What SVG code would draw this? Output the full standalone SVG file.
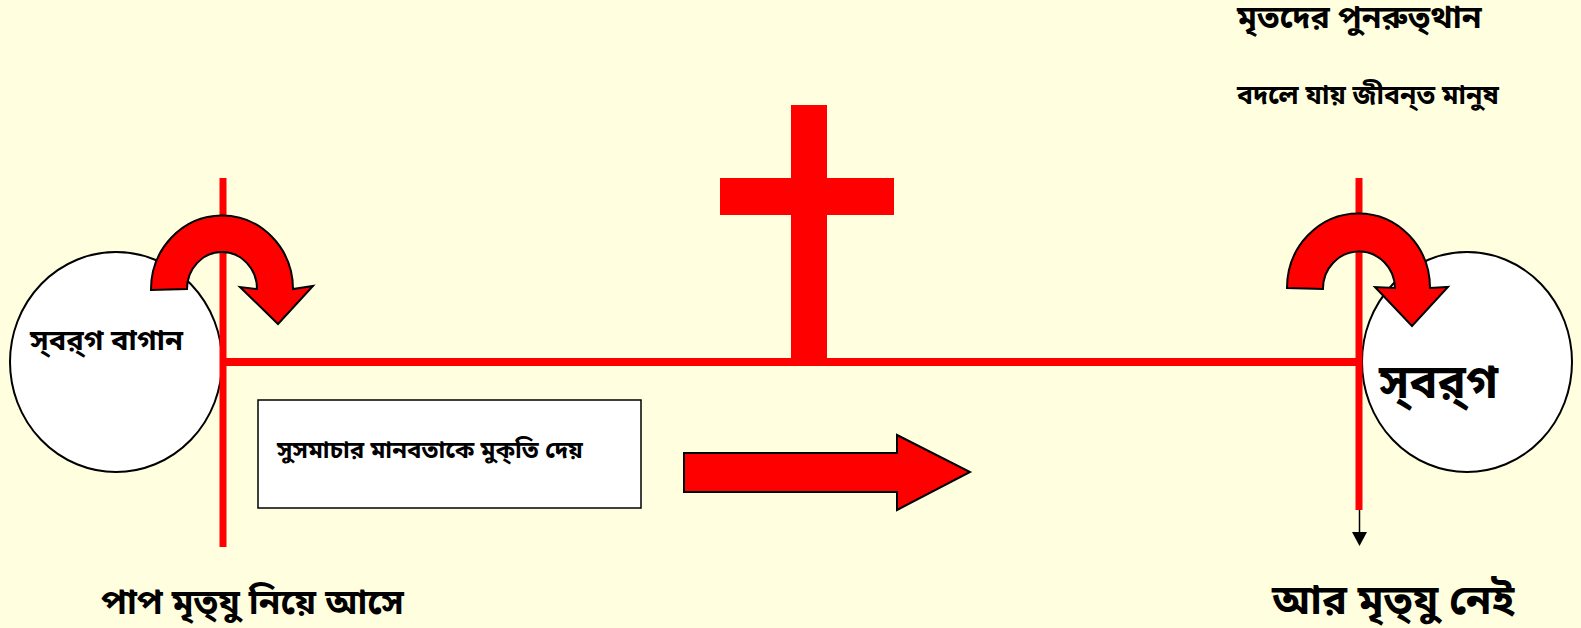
<svg xmlns="http://www.w3.org/2000/svg" width="1581" height="628" viewBox="0 0 1581 628">
<style>
.bn{font-family:"Noto Sans Bengali","Noto Sans","DejaVu Sans",sans-serif;font-weight:bold;fill:#000}
.circ{fill:#fff;stroke:#000;stroke-width:2}
.blk{fill:#ff0000;stroke:#000;stroke-width:2;stroke-linejoin:miter}
.rl{stroke:#ff0000;fill:none}
</style>
<rect width="1581" height="628" fill="#ffffe0"/>
<g id="left-circle">
<ellipse class="circ" cx="116" cy="362" rx="106" ry="110"/>
<text class="bn" x="30" y="350" font-size="29">স্‌বর্‌গ বাগান</text>
</g>
<g id="right-circle">
<ellipse class="circ" cx="1467" cy="362" rx="105" ry="110"/>
<text class="bn" x="1379" y="398" font-size="47">স্‌বর্‌গ</text>
</g>
<g id="connectors">
<line class="rl" x1="223" y1="178" x2="223" y2="547" stroke-width="7"/>
<line class="rl" x1="223" y1="362" x2="1359" y2="362" stroke-width="8"/>
<line class="rl" x1="1359" y1="178" x2="1359" y2="510" stroke-width="7"/>
<line x1="1359.5" y1="510" x2="1359.5" y2="533" stroke="#000" stroke-width="1.5"/>
<path d="M1352,532 L1367,532 L1359.5,546 Z" fill="#000"/>
</g>
<g id="cross">
<rect x="791" y="105" width="36" height="257" fill="#ff0000"/>
<rect x="720" y="178" width="174" height="37" fill="#ff0000"/>
</g>
<g id="left-uturn">
<path class="blk" d="M151,290 A71,74 0 0 1 293,289 L313,286 L278,324 L240,287 L257,289 A35,37 0 0 0 187,289 Z"/>
</g>
<g id="right-uturn">
<path class="blk" d="M1287,288 A71,74 0 0 1 1430,288 L1448,287 L1412,326 L1375,287 L1395,288 A36,37 0 0 0 1323,289 Z"/>
</g>
<g id="gospel-box">
<rect x="258" y="400" width="383" height="108" fill="#fff" stroke="#000" stroke-width="1.5"/>
<text class="bn" x="277" y="458" font-size="24">সুসমাচার মানবতাকে মুক্‌তি দেয়</text>
</g>
<g id="right-arrow">
<path class="blk" d="M684,453 L897,453 L897,435 L970,472 L897,510 L897,492 L684,492 Z"/>
</g>
<g id="top-texts">
<text class="bn" x="1237" y="28" font-size="32">মৃতদের পুনরুত্‌থান</text>
<text class="bn" x="1237" y="104" font-size="26.5">বদলে যায় জীবন্‌ত মানুষ</text>
</g>
<g id="bottom-texts">
<text class="bn" x="101" y="614" font-size="35">পাপ মৃত্‌যু নিয়ে আসে</text>
<text class="bn" x="1272" y="614" font-size="41.5">আর মৃত্‌যু নেই</text>
</g>
</svg>
